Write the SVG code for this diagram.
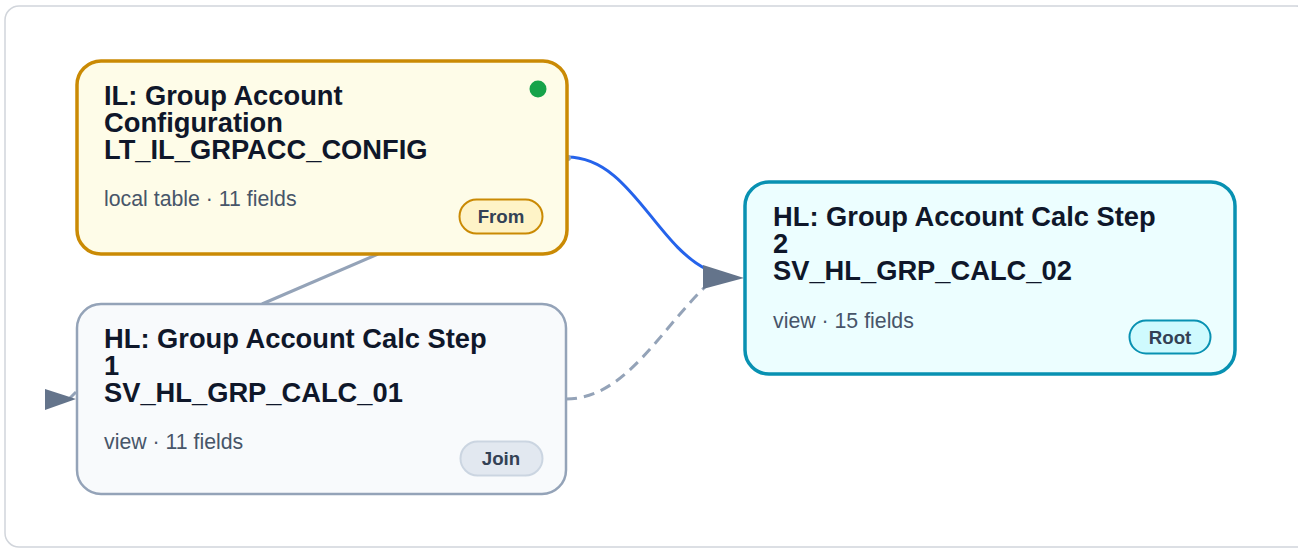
<svg xmlns="http://www.w3.org/2000/svg" width="1298" height="549" viewBox="0 0 1298 549">
<style>
.frame{fill:#ffffff;stroke:#d1d5db;stroke-width:1.5}
.title{font-family:"Liberation Sans",Arial,sans-serif;font-weight:bold;font-size:27.3px;fill:#0f172a}
.meta{font-family:"Liberation Sans",Arial,sans-serif;font-size:21.3px;fill:#475569}
.badge-text{font-family:"Liberation Sans",Arial,sans-serif;font-weight:bold;font-size:18.7px;fill:#334155;text-anchor:middle}
.edge{fill:none;stroke-width:3}
.arrow{fill:#64748b}
</style>
<rect class="frame" x="5" y="6" width="1305" height="541" rx="14"/>
<g id="connectors">
<line class="edge" x1="378" y1="254" x2="262" y2="304" stroke="#94a3b8"/>
<path class="edge" d="M566,399 C625,399 660,330 706,286" stroke="#94a3b8" stroke-dasharray="11,7"/>
<path class="edge" d="M567,157 C630,157 655,245 708,270" stroke="#2563eb" stroke-width="3.5"/>
<circle cx="568" cy="158" r="3" fill="#94a3b8"/>
<polygon class="arrow" points="703,265 744,278 703,289"/>
<path class="edge" d="M70,398 L76,392" stroke="#94a3b8" stroke-width="2"/>
<polygon class="arrow" points="45,389 76,399 45,410"/>
</g>
<g id="node-il-config">
<rect x="77" y="61" width="490" height="193" rx="24" fill="#fefce8" stroke="#ca8a04" stroke-width="3.5"/>
<circle cx="538" cy="89" r="8.5" fill="#16a34a"/>
<text class="title"><tspan x="104" y="105">IL: Group Account</tspan><tspan x="104" y="132">Configuration</tspan><tspan x="104" y="159">LT_IL_GRPACC_CONFIG</tspan></text>
<text class="meta" x="104" y="206">local table · 11 fields</text>
<rect x="459.5" y="199.5" width="83" height="34" rx="17" fill="#fef3c7" stroke="#ca8a04" stroke-width="2"/>
<text class="badge-text" x="501" y="223">From</text>
</g>
<g id="node-hl-calc-01">
<rect x="77" y="304" width="489" height="190" rx="24" fill="#f8fafc" stroke="#94a3b8" stroke-width="2.5"/>
<text class="title"><tspan x="104" y="348">HL: Group Account Calc Step</tspan><tspan x="104" y="375">1</tspan><tspan x="104" y="402">SV_HL_GRP_CALC_01</tspan></text>
<text class="meta" x="104" y="449">view · 11 fields</text>
<rect x="460.5" y="441.5" width="82" height="34" rx="17" fill="#e2e8f0" stroke="#cbd5e1" stroke-width="2"/>
<text class="badge-text" x="501" y="465">Join</text>
</g>
<g id="node-hl-calc-02">
<rect x="745" y="182" width="490" height="192" rx="24" fill="#ecfeff" stroke="#0891b2" stroke-width="3.5"/>
<text class="title"><tspan x="773" y="226">HL: Group Account Calc Step</tspan><tspan x="773" y="253">2</tspan><tspan x="773" y="280">SV_HL_GRP_CALC_02</tspan></text>
<text class="meta" x="773" y="328">view · 15 fields</text>
<rect x="1129.5" y="320.5" width="81" height="33" rx="16.5" fill="#cffafe" stroke="#0891b2" stroke-width="2"/>
<text class="badge-text" x="1170" y="344">Root</text>
</g>
</svg>
